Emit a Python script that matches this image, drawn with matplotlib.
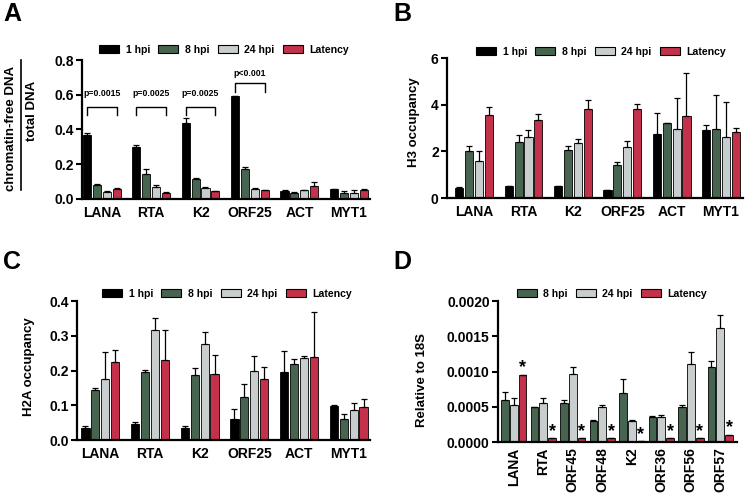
import numpy as np
import matplotlib
matplotlib.use('Agg')
import matplotlib.pyplot as plt
from matplotlib.patches import Patch

plt.rcParams['font.family'] = ['Liberation Sans', 'DejaVu Sans']
plt.rcParams['font.weight'] = 'bold'
plt.rcParams['axes.labelweight'] = 'bold'

# colours for the four conditions
BLACK = '#000000'
GREEN = '#46644f'
LIGHT = '#c8cdcd'
RED = '#c3314a'

series_abc = ['1 hpi', '8 hpi', '24 hpi', 'Latency']
colors_abc = [BLACK, GREEN, LIGHT, RED]
genes_abc = ['LANA', 'RTA', 'K2', 'ORF25', 'ACT', 'MYT1']

# panel A : chromatin-free DNA / total DNA
a_vals = [[0.37, 0.30, 0.44, 0.59, 0.045, 0.055],
          [0.08, 0.145, 0.115, 0.17, 0.035, 0.035],
          [0.04, 0.07, 0.065, 0.06, 0.05, 0.037],
          [0.06, 0.035, 0.045, 0.05, 0.075, 0.05]]
a_errs = [[0.012, 0.01, 0.025, 0.005, 0.006, 0.003],
          [0.006, 0.03, 0.004, 0.015, 0.004, 0.01],
          [0.004, 0.012, 0.005, 0.002, 0.003, 0.015],
          [0.003, 0.008, 0.002, 0.002, 0.025, 0.005]]
a_pvals = ['p=0.0015', 'p=0.0025', 'p=0.0025', 'p<0.001']

# panel B : H3 occupancy
b_vals = [[0.45, 0.5, 0.5, 0.33, 2.75, 2.9],
          [2.0, 2.4, 2.05, 1.4, 3.2, 2.95],
          [1.6, 2.6, 2.35, 2.2, 2.95, 2.6],
          [3.55, 3.35, 3.8, 3.8, 3.5, 2.85]]
b_errs = [[0.02, 0.02, 0.02, 0.02, 0.9, 0.22],
          [0.22, 0.28, 0.2, 0.14, 0.03, 1.45],
          [0.4, 0.3, 0.17, 0.24, 1.35, 1.52],
          [0.35, 0.26, 0.42, 0.25, 1.85, 0.17]]

# panel C : H2A occupancy
c_vals = [[0.035, 0.045, 0.035, 0.06, 0.195, 0.097],
          [0.145, 0.195, 0.186, 0.125, 0.22, 0.06],
          [0.175, 0.316, 0.276, 0.2, 0.236, 0.085],
          [0.225, 0.23, 0.19, 0.175, 0.24, 0.096]]
c_errs = [[0.006, 0.007, 0.006, 0.028, 0.062, 0.005],
          [0.006, 0.007, 0.02, 0.035, 0.013, 0.014],
          [0.078, 0.035, 0.035, 0.042, 0.006, 0.021],
          [0.035, 0.086, 0.056, 0.035, 0.127, 0.021]]

# panel D : relative to 18S
series_d = ['8 hpi', '24 hpi', 'Latency']
colors_d = [GREEN, LIGHT, RED]
genes_d = ['LANA', 'RTA', 'ORF45', 'ORF48', 'K2', 'ORF36', 'ORF56', 'ORF57']
d_vals = [[0.0006, 0.00049, 0.00055, 0.0003, 0.0007, 0.00035, 0.00049, 0.00107],
          [0.00053, 0.00055, 0.00096, 0.00049, 0.0003, 0.00035, 0.0011, 0.00161],
          [0.00095, 0.00005, 0.00005, 0.00005, 0.000012, 0.00005, 0.00005, 0.0001]]
d_errs = [[0.00011, 0.00001, 0.00005, 0.00001, 0.0002, 0.00002, 0.00003, 0.00008],
          [0.0001, 0.00008, 0.00011, 0.00004, 0.00001, 0.00004, 0.00017, 0.00019],
          [0, 0, 0, 0, 0, 0, 0, 0]]

fig = plt.figure(figsize=(7.47, 4.98), dpi=100)
W, H = 747.0, 498.0


def px_axes(l, t, r, b):
    return fig.add_axes([l / W, 1 - b / H, (r - l) / W, (b - t) / H])


def style(ax):
    for s in ['top', 'right']:
        ax.spines[s].set_visible(False)
    for s in ['left', 'bottom']:
        ax.spines[s].set_linewidth(1.6)
    ax.tick_params(axis='y', length=4, width=1.5, labelsize=10, pad=2)
    ax.tick_params(axis='x', length=0, labelsize=10, pad=5)


def grouped(ax, vals, errs, colors, step, width):
    n = len(vals)
    x = np.arange(len(vals[0]))
    for i in range(n):
        off = (i - (n - 1) / 2.0) * step
        ax.bar(x + off, vals[i], width, color=colors[i], edgecolor='black',
               linewidth=0.6, zorder=2)
        e = np.array(errs[i])
        lo = np.zeros_like(e)
        ax.errorbar(x + off, vals[i], yerr=[lo, e], fmt='none', ecolor='black',
                    elinewidth=0.9, capsize=2.2, capthick=0.9, zorder=3)
    return x


def legend(labels, colors, cx, cy):
    handles = [Patch(facecolor=c, edgecolor='black', linewidth=0.8) for c in colors]
    fig.legend(handles, labels, loc='center', bbox_to_anchor=(cx / W, 1 - cy / H),
               ncol=len(labels), frameon=False, fontsize=7.6, handlelength=1.9,
               handleheight=0.75, handletextpad=0.6, columnspacing=0.8,
               borderpad=0, borderaxespad=0)


# ---- A
axA = px_axes(82, 60, 370, 199)
xa = grouped(axA, a_vals, a_errs, colors_abc, 0.2, 0.165)
style(axA)
axA.set_ylim(0, 0.8)
axA.set_yticks([0, 0.2, 0.4, 0.6, 0.8])
axA.set_yticklabels(['0.0', '0.2', '0.4', '0.6', '0.8'])
axA.set_xlim(-0.40, 5.43)
axA.set_xticks(xa)
axA.set_xticklabels(genes_abc)
for i, p in enumerate(a_pvals):
    if i < 3:
        top, leg, ty = 0.532, 0.484, 0.61
    else:
        top, leg, ty = 0.666, 0.618, 0.72
    x0, x1 = xa[i] - 0.3, xa[i] + 0.3
    axA.plot([x0, x0, x1, x1], [leg, top, top, leg], color='black', lw=1.0,
             clip_on=False)
    axA.text(xa[i], ty, p, ha='center', va='center', fontsize=6.3)
legend(series_abc, colors_abc, 224, 50)
fig.text(11 / W, 1 - 128 / H, 'chromatin-free DNA', rotation=90, ha='center',
         va='center', fontsize=9.5)
fig.text(32 / W, 1 - 111 / H, 'total DNA', rotation=90, ha='center',
         va='center', fontsize=9.5)
fig.add_artist(plt.Line2D([21 / W, 21 / W], [1 - 60 / H, 1 - 190 / H],
                          color='black', lw=1.2))

# ---- B
axB = px_axes(447, 58, 743, 198)
xb = grouped(axB, b_vals, b_errs, colors_abc, 0.2, 0.165)
style(axB)
axB.set_ylim(0, 6)
axB.set_yticks([0, 2, 4, 6])
axB.set_xlim(-0.55, 5.445)
axB.set_xticks(xb)
axB.set_xticklabels(genes_abc)
axB.set_ylabel('H3 occupancy', fontsize=9.5)
axB.yaxis.set_label_coords(-0.091, 0.54)
legend(series_abc, colors_abc, 601, 52)

# ---- C
axC = px_axes(77, 301, 370, 440)
xc = grouped(axC, c_vals, c_errs, colors_abc, 0.2, 0.165)
style(axC)
axC.set_ylim(0, 0.4)
axC.set_yticks([0, 0.1, 0.2, 0.3, 0.4])
axC.set_yticklabels(['0.0', '0.1', '0.2', '0.3', '0.4'])
axC.set_xlim(-0.47, 5.43)
axC.set_xticks(xc)
axC.set_xticklabels(genes_abc)
axC.set_ylabel('H2A occupancy', fontsize=9.5)
axC.yaxis.set_label_coords(-0.143, 0.53)
legend(series_abc, colors_abc, 227, 294)

# ---- D
axD = px_axes(498, 301, 737, 442)
xd = grouped(axD, d_vals, d_errs, colors_d, 0.3, 0.26)
style(axD)
axD.set_ylim(0, 0.002)
axD.set_yticks([0, 0.0005, 0.001, 0.0015, 0.002])
axD.set_yticklabels(['0.0000', '0.0005', '0.0010', '0.0015', '0.0020'])
axD.set_xlim(-0.535, 7.565)
axD.set_xticks(xd)
axD.set_xticklabels(genes_d, rotation=90)
axD.tick_params(axis='x', pad=4)
axD.set_ylabel('Relative to 18S', fontsize=9.5)
axD.yaxis.set_label_coords(-0.293, 0.44)
for i in range(len(genes_d)):
    v = d_vals[2][i]
    axD.text(xd[i] + 0.3, v + 0.0001, '*', ha='center', va='center',
             fontsize=13)
legend(series_d, colors_d, 612, 294)

# panel letters
for lab, x, y in [('A', 3, 2), ('B', 393, 2), ('C', 3, 250), ('D', 393, 250)]:
    fig.text(x / W, 1 - y / H, lab, ha='left', va='top', fontsize=18)

fig.savefig('out.png', dpi=100)
